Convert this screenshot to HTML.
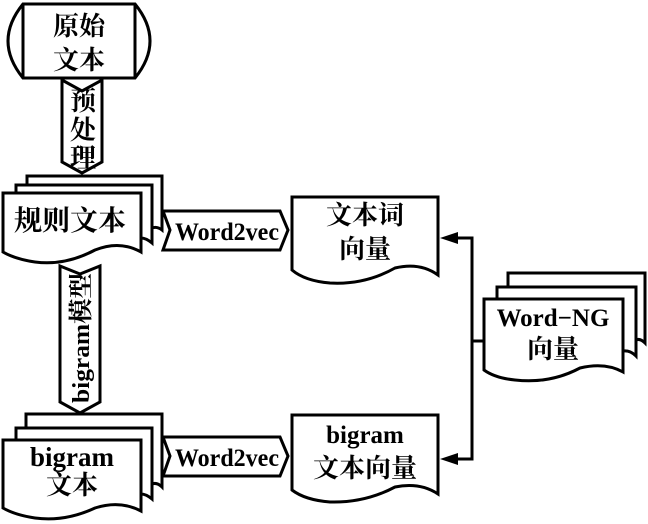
<!DOCTYPE html>
<html><head><meta charset="utf-8"><style>
html,body{margin:0;padding:0;background:#fff;}
svg{display:block}
text{font-family:"Liberation Serif","Noto Serif CJK SC",serif;fill:#000}
</style></head><body>
<svg width="648" height="524" viewBox="0 0 648 524" xmlns="http://www.w3.org/2000/svg">
<g fill="#fff" stroke="#000" stroke-width="3" stroke-linejoin="miter">
<path d="M23,4 H135 Q165,41 135,78 H23 Q-7,41 23,4 Z"/>
<line x1="135" y1="4" x2="135" y2="78"/>
<line x1="23" y1="4" x2="23" y2="78"/>
<path d="M62,80 L82,91 L102,80 V162 L82,173 L62,162 Z"/>
<path d="M27,176 H162 V230 Q157,226 152,228 V185 H27 Z"/>
<path d="M16,185 H152 V243 Q146,238 141,238 V193 H16 Z"/>
<path d="M3,193 H141 V252 Q120,240 95,250 Q65,266 35,262 Q15,259 3,252 Z"/>
<path d="M163,211 H280 L288,230 L280,250 H163 L170,230 Z"/>
<path d="M292,197 H438 V275 Q420,262 395,268 Q365,285 330,283 Q305,281 292,270 Z"/>
<path d="M60,266 L80,274 L100,266 V402 L80,413 L60,402 Z"/>
<path d="M26,414 H162 V487 Q157,482 152,484 V428 H26 Z"/>
<path d="M16,428 H152 V499 Q146,494 141,494 V440 H16 Z"/>
<path d="M3,440 H141 V511 Q120,500 95,508 Q65,522 35,518 Q15,515 3,508 Z"/>
<path d="M163,437 H280 L288,456 L280,476 H163 L170,456 Z"/>
<path d="M292,415 H438 V494 Q420,482 395,487 Q365,503 330,502 Q305,500 292,490 Z"/>
<path d="M508,273 H645 V343 Q640,338 636,340 V287 H508 Z"/>
<path d="M497,287 H636 V356 Q630,350 623,351 V299 H497 Z"/>
<path d="M484,299 H623 V372 Q605,362 580,368 Q550,384 515,380 Q495,378 484,370 Z"/>
</g>
<g stroke="#000" stroke-width="3" fill="none">
<polyline points="452,238 472,238 472,459 452,459"/>
<line x1="472" y1="341" x2="484" y2="341"/>
</g>
<polygon points="440,238 458,232 458,244" fill="#000"/>
<polygon points="440,459 458,453 458,465" fill="#000"/>
<g font-size="26" text-anchor="middle" font-weight="bold">
<text x="79" y="35">原始</text>
<text x="79" y="69">文本</text>
<text x="70" y="230" font-size="28">规则文本</text>
<text x="365" y="224">文本词</text>
<text x="365" y="258">向量</text>
<text x="72" y="494">文本</text>
<text x="365" y="477">文本向量</text>
<text x="553" y="358">向量</text>
</g>
<g font-size="26" text-anchor="middle" font-weight="bold">
<text x="83" y="110">预</text>
<text x="83" y="139">处</text>
<text x="83" y="167">理</text>
</g>
<g font-weight="bold" text-anchor="middle">
<text x="227" y="240" font-size="25" textLength="104" lengthAdjust="spacingAndGlyphs">Word2vec</text>
<text x="227" y="466" font-size="25" textLength="104" lengthAdjust="spacingAndGlyphs">Word2vec</text>
<text x="72" y="466" font-size="27">bigram</text>
<text x="365" y="443" font-size="25">bigram</text>
<text x="553" y="326" font-size="25">Word−NG</text>
</g>
<text x="0" y="0" font-size="24" font-weight="bold" text-anchor="middle" textLength="130" lengthAdjust="spacingAndGlyphs" transform="translate(89,338) rotate(-90)">bigram模型</text>
</svg>
</body></html>
